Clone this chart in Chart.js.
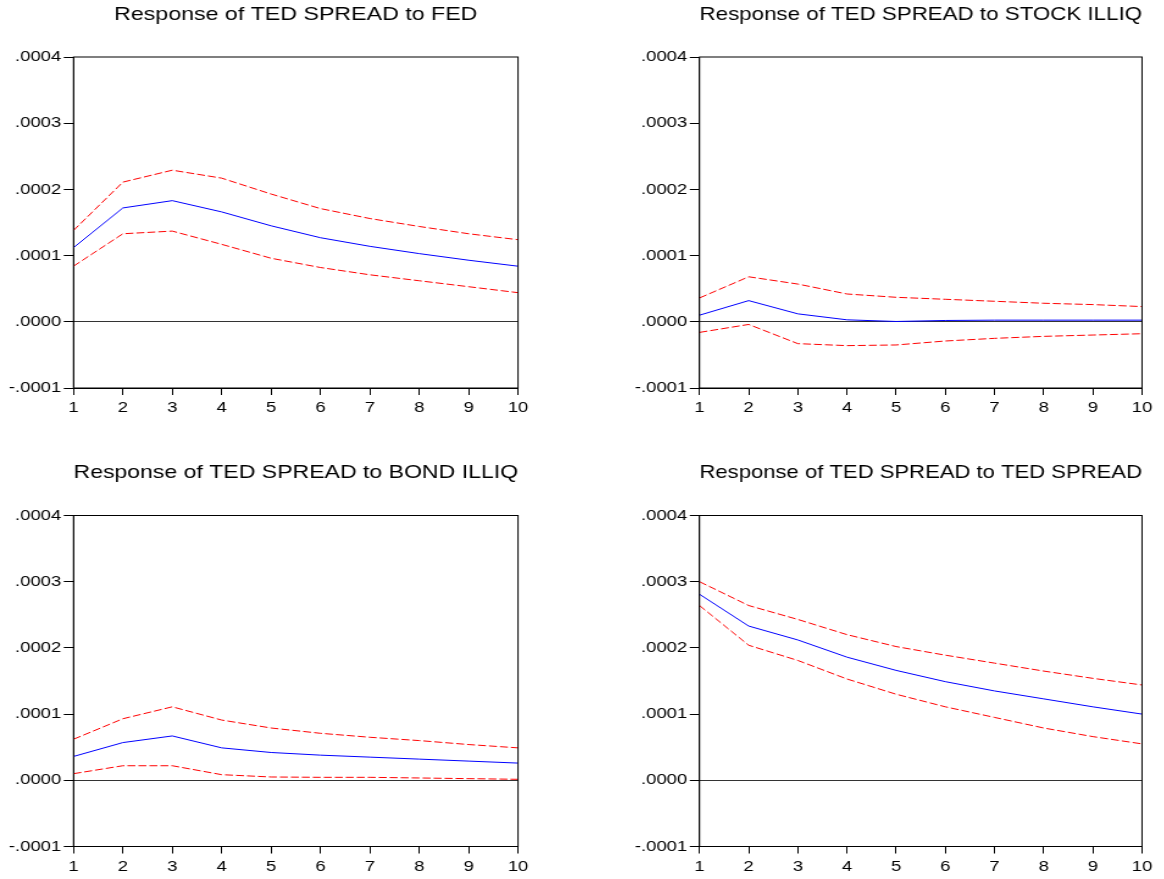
<!DOCTYPE html>
<html>
<head>
<meta charset="utf-8">
<script src="https://cdn.jsdelivr.net/npm/chart.js@4.4.1/dist/chart.umd.min.js"></script>
<style>
  html, body { margin: 0; padding: 0; background: #fff; overflow: hidden; }
  .panel { position: absolute; transform-origin: 0 0; }
</style>
</head>
<body>
<script>
// horizon (periods after the shock)
const periods = ['1', '2', '3', '4', '5', '6', '7', '8', '9', '10']
const yTicks = [-0.0001, 0, 0.0001, 0.0002, 0.0003, 0.0004]

// response of TED SPREAD to FED
const fedResp  = [0.000112, 0.000172, 0.000183, 0.000166, 0.000145, 0.000127, 0.000114, 0.000103, 0.000093, 0.000084]
const fedUpper = [0.000138, 0.000211, 0.000229, 0.000217, 0.000193, 0.000171, 0.000156, 0.000144, 0.000133, 0.000124]
const fedLower = [0.000084, 0.000133, 0.000137, 0.000117, 0.000096, 0.000082, 0.000071, 0.000062, 0.000053, 0.000044]

// response of TED SPREAD to STOCK ILLIQ
const stockResp  = [0.000010, 0.000032, 0.000012, 0.000003, 0.0000005, 0.000002, 0.0000025, 0.0000025, 0.0000025, 0.0000025]
const stockUpper = [0.000036, 0.000068, 0.000057, 0.000042, 0.000037, 0.000034, 0.000031, 0.000028, 0.000026, 0.000023]
const stockLower = [-0.000016, -0.000004, -0.000033, -0.000036, -0.000035, -0.000029, -0.000025, -0.000022, -0.000020, -0.000018]

// response of TED SPREAD to BOND ILLIQ
const bondResp  = [0.000036, 0.000057, 0.000067, 0.000049, 0.000042, 0.000038, 0.000035, 0.000032, 0.000029, 0.000026]
const bondUpper = [0.000062, 0.000093, 0.000111, 0.000091, 0.000079, 0.000071, 0.000065, 0.000060, 0.000054, 0.000049]
const bondLower = [0.000010, 0.000022, 0.000022, 0.0000085, 0.000005, 0.0000045, 0.0000045, 0.0000035, 0.0000025, 0.0000015]

// response of TED SPREAD to TED SPREAD
const tedResp  = [0.000281, 0.000233, 0.000212, 0.000186, 0.000166, 0.000149, 0.000135, 0.000123, 0.000111, 0.000100]
const tedUpper = [0.000300, 0.000264, 0.000243, 0.000220, 0.000202, 0.000189, 0.000177, 0.000165, 0.000154, 0.000144]
const tedLower = [0.000264, 0.000204, 0.000181, 0.000153, 0.000130, 0.000111, 0.000095, 0.000079, 0.000066, 0.000055]

// the original graph uses a wide font, so every panel is stretched sideways a bit
const SX = 1.22
const H = 421
const FONT = "'Liberation Sans', Arial, sans-serif"
const TITLE_SIZE = 19

const panels = [
  { title: 'Response of TED SPREAD to FED', resp: fedResp, upper: fedUpper, lower: fedLower,
    x: 0, y: 0, w: 590, plotL: 73.5, plotR: 518, plotT: 57, plotB: 388 },
  { title: 'Response of TED SPREAD to STOCK ILLIQ', resp: stockResp, upper: stockUpper, lower: stockLower,
    x: 590, y: 0, w: 574, plotL: 699.5, plotR: 1142, plotT: 57, plotB: 388 },
  { title: 'Response of TED SPREAD to BOND ILLIQ', resp: bondResp, upper: bondUpper, lower: bondLower,
    x: 0, y: 458, w: 590, plotL: 73.5, plotR: 518, plotT: 515.5, plotB: 846.5 },
  { title: 'Response of TED SPREAD to TED SPREAD', resp: tedResp, upper: tedUpper, lower: tedLower,
    x: 590, y: 458, w: 574, plotL: 699.5, plotR: 1142, plotT: 515.5, plotB: 846.5 }
]

const fmt = v => (v < -1e-12 ? '-' : '') + Math.abs(v).toFixed(4).replace(/^0/, '')

const frame = {
  id: 'frame',
  afterDatasetsDraw(chart) {
    const { ctx, chartArea: a } = chart
    ctx.save()
    ctx.strokeStyle = '#000'
    ctx.lineWidth = 1
    ctx.strokeRect(a.left, a.top, a.right - a.left, a.bottom - a.top)
    ctx.restore()
  }
}

const band = data => ({
  data, borderColor: '#ff0000', borderWidth: 1, borderDash: [6.5, 2.5],
  pointRadius: 0, fill: false, tension: 0
})

panels.forEach(p => {
  const cw = Math.round(p.w / SX)
  const box = document.createElement('div')
  box.className = 'panel'
  box.style.left = p.x + 'px'
  box.style.top = p.y + 'px'
  box.style.transform = `scaleX(${SX})`
  const canvas = document.createElement('canvas')
  canvas.width = cw
  canvas.height = H
  canvas.style.width = cw + 'px'
  canvas.style.height = H + 'px'
  box.appendChild(canvas)
  document.body.appendChild(box)

  const rightEdge = p.x + cw * SX
  const tickFont = { family: FONT, size: 15.2 }
  const titleTop = 3

  new Chart(canvas, {
    type: 'line',
    data: {
      labels: periods,
      datasets: [
        band(p.upper),
        band(p.lower),
        { data: p.resp, borderColor: '#0000ff', borderWidth: 1, pointRadius: 0, fill: false, tension: 0 }
      ]
    },
    options: {
      responsive: false,
      animation: false,
      devicePixelRatio: 1,
      layout: { padding: { left: 0, right: (rightEdge - p.plotR) / SX, top: 0, bottom: 0 } },
      plugins: {
        legend: { display: false },
        tooltip: { enabled: false },
        title: {
          display: true,
          text: p.title,
          fullSize: false,
          color: '#000',
          font: { family: FONT, size: TITLE_SIZE, weight: 'normal', lineHeight: 1.2 },
          padding: { top: titleTop, bottom: p.plotT - p.y - titleTop - TITLE_SIZE * 1.2 }
        }
      },
      scales: {
        x: {
          grid: { drawOnChartArea: false, tickLength: 7, tickColor: '#000' },
          border: { color: '#000', width: 1 },
          ticks: { color: '#000', font: tickFont, padding: 4, maxRotation: 0, autoSkip: false },
          afterFit: s => { s.height = p.y + H - p.plotB }
        },
        y: {
          min: yTicks[0],
          max: yTicks[yTicks.length - 1],
          afterBuildTicks: s => { s.ticks = yTicks.map(v => ({ value: v })) },
          grid: {
            color: c => (c.tick && Math.abs(c.tick.value) < 1e-12) ? '#333' : 'rgba(0,0,0,0)',
            tickLength: 8,
            tickColor: '#000'
          },
          border: { color: '#000', width: 1 },
          ticks: { color: '#000', font: tickFont, padding: 2, callback: v => fmt(v) },
          afterFit: s => { s.width = (p.plotL - p.x) / SX }
        }
      }
    },
    plugins: [frame]
  })
})
</script>
</body>
</html>
